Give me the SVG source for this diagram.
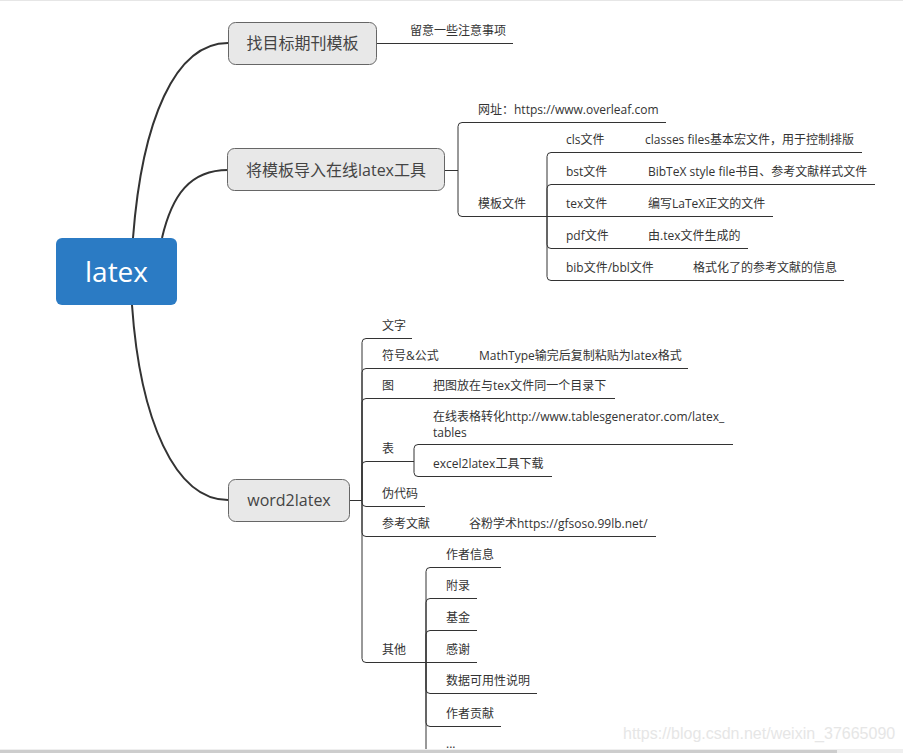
<svg xmlns="http://www.w3.org/2000/svg" width="903" height="753" viewBox="0 0 903 753">
<style>
text{font-family:"Open Sans","Noto Sans CJK SC",sans-serif;}
.t{font-size:12px;fill:#333;}
.nt{font-size:16px;fill:#444;text-anchor:middle;}
.node{fill:#e8e8e8;stroke:#666;stroke-width:1;}
.main{fill:none;stroke:#333;stroke-width:2;}
.ln{fill:none;stroke:#333;stroke-width:1;}
</style>
<rect x="0" y="0" width="903" height="753" fill="#fff"/>
<rect x="0" y="0" width="903" height="1" fill="#e6e6e6"/>

<g id="connectors">
  <path class="main" d="M133,238 C142,120 175,43 228,43"/>
  <path class="main" d="M162,238 C172,195 190,170 228,170"/>
  <path class="main" d="M132,305 C140,420 175,500 228,500"/>
  <path class="ln" d="M377,43.5 H513"/>
  <path class="ln" d="M445,170.5 H458"/>
  <path class="ln" d="M458,170 V126.5 Q458,122.5 462,122.5 H666"/>
  <path class="ln" d="M458,170 V212.5 Q458,216.5 462,216.5 H547"/>
  <path class="ln" d="M547,216 V156.5 Q547,152.5 551,152.5 H862"/>
  <path class="ln" d="M547,216 V188.5 Q547,184.5 551,184.5 H875"/>
  <path class="ln" d="M547,216.5 H773"/>
  <path class="ln" d="M547,216 V244.5 Q547,248.5 551,248.5 H748"/>
  <path class="ln" d="M547,216 V276.5 Q547,280.5 551,280.5 H844"/>
  <path class="ln" d="M349,500.5 H362"/>
  <path class="ln" d="M362,500 V342.5 Q362,338.5 366,338.5 H412"/>
  <path class="ln" d="M362,500 V372.5 Q362,368.5 366,368.5 H688"/>
  <path class="ln" d="M362,500 V402.5 Q362,398.5 366,398.5 H615"/>
  <path class="ln" d="M362,500 V465.5 Q362,461.5 366,461.5 H414"/>
  <path class="ln" d="M362,500 V502.5 Q362,506.5 366,506.5 H425"/>
  <path class="ln" d="M362,500 V532.5 Q362,536.5 366,536.5 H656"/>
  <path class="ln" d="M362,500 V658.5 Q362,662.5 366,662.5 H426"/>
  <path class="ln" d="M414,461 V448.5 Q414,444.5 418,444.5 H733"/>
  <path class="ln" d="M414,461 V472.5 Q414,476.5 418,476.5 H552"/>
  <path class="ln" d="M426,662 V571.5 Q426,567.5 430,567.5 H501"/>
  <path class="ln" d="M426,662 V602.5 Q426,598.5 430,598.5 H477"/>
  <path class="ln" d="M426,662 V634.5 Q426,630.5 430,630.5 H477"/>
  <path class="ln" d="M426,662.5 H477"/>
  <path class="ln" d="M426,662 V689.5 Q426,693.5 430,693.5 H537"/>
  <path class="ln" d="M426,662 V722.5 Q426,726.5 430,726.5 H501"/>
  <path class="ln" d="M426,662 V760"/>
</g>

<g id="latex">
  <rect x="56" y="238" width="121" height="67" rx="6" fill="#2b7bc4"/>
  <text x="116.5" y="282" style="font-size:28px;fill:#fff;text-anchor:middle;">latex</text>
</g>

<g id="n1">
  <rect class="node" x="228.5" y="22.5" width="148" height="42" rx="7"/>
  <text class="nt" x="302.5" y="49">找目标期刊模板</text>
</g>
<g id="n1a"><text class="t" x="410" y="35">留意一些注意事项</text></g>

<g id="n2">
  <rect class="node" x="227.5" y="148.5" width="217" height="42" rx="7"/>
  <text class="nt" x="336" y="175.5">将模板导入在线latex工具</text>
</g>
<g id="n2a"><text class="t" x="478" y="114">网址：https://www.overleaf.com</text></g>
<g id="n2b"><text class="t" x="478" y="208">模板文件</text></g>
<g id="n2b1"><text class="t" x="566" y="144">cls文件</text><text class="t" x="645" y="144">classes files基本宏文件，用于控制排版</text></g>
<g id="n2b2"><text class="t" x="566" y="176">bst文件</text><text class="t" x="648" y="176">BibTeX style file书目、参考文献样式文件</text></g>
<g id="n2b3"><text class="t" x="566" y="208">tex文件</text><text class="t" x="648" y="208">编写LaTeX正文的文件</text></g>
<g id="n2b4"><text class="t" x="566" y="240">pdf文件</text><text class="t" x="648" y="240">由.tex文件生成的</text></g>
<g id="n2b5"><text class="t" x="566" y="272">bib文件/bbl文件</text><text class="t" x="693" y="272">格式化了的参考文献的信息</text></g>

<g id="n3">
  <rect class="node" x="228.5" y="479.5" width="121" height="42" rx="7"/>
  <text class="nt" x="289" y="506">word2latex</text>
</g>
<g id="n3a"><text class="t" x="382" y="330">文字</text></g>
<g id="n3b"><text class="t" x="382" y="360">符号&amp;公式</text><text class="t" x="479" y="360">MathType输完后复制粘贴为latex格式</text></g>
<g id="n3c"><text class="t" x="382" y="390">图</text><text class="t" x="433" y="390">把图放在与tex文件同一个目录下</text></g>
<g id="n3d"><text class="t" x="382" y="453">表</text></g>
<g id="n3d1"><text class="t" x="433" y="421">在线表格转化http://www.tablesgenerator.com/latex_</text><text class="t" x="433" y="436.5">tables</text></g>
<g id="n3d2"><text class="t" x="433" y="468">excel2latex工具下载</text></g>
<g id="n3e"><text class="t" x="382" y="498">伪代码</text></g>
<g id="n3f"><text class="t" x="382" y="528">参考文献</text><text class="t" x="469" y="528">谷粉学术https://gfsoso.99lb.net/</text></g>
<g id="n3g"><text class="t" x="382" y="654">其他</text></g>
<g id="n3g1"><text class="t" x="446" y="559">作者信息</text></g>
<g id="n3g2"><text class="t" x="446" y="590">附录</text></g>
<g id="n3g3"><text class="t" x="446" y="622">基金</text></g>
<g id="n3g4"><text class="t" x="446" y="654">感谢</text></g>
<g id="n3g5"><text class="t" x="446" y="685">数据可用性说明</text></g>
<g id="n3g6"><text class="t" x="446" y="718">作者贡献</text></g>
<g id="n3g7"><text class="t" x="446" y="748">...</text></g>

<text x="623" y="739" style="font-family:'Liberation Sans',Arial,sans-serif;font-size:16px;fill:#e6e6e6;">https://blog.csdn.net/weixin_37665090</text>
<rect x="0" y="749" width="903" height="4" fill="#efefef"/>
<rect x="0" y="750" width="837" height="3" fill="#cdcdcd"/>
</svg>
